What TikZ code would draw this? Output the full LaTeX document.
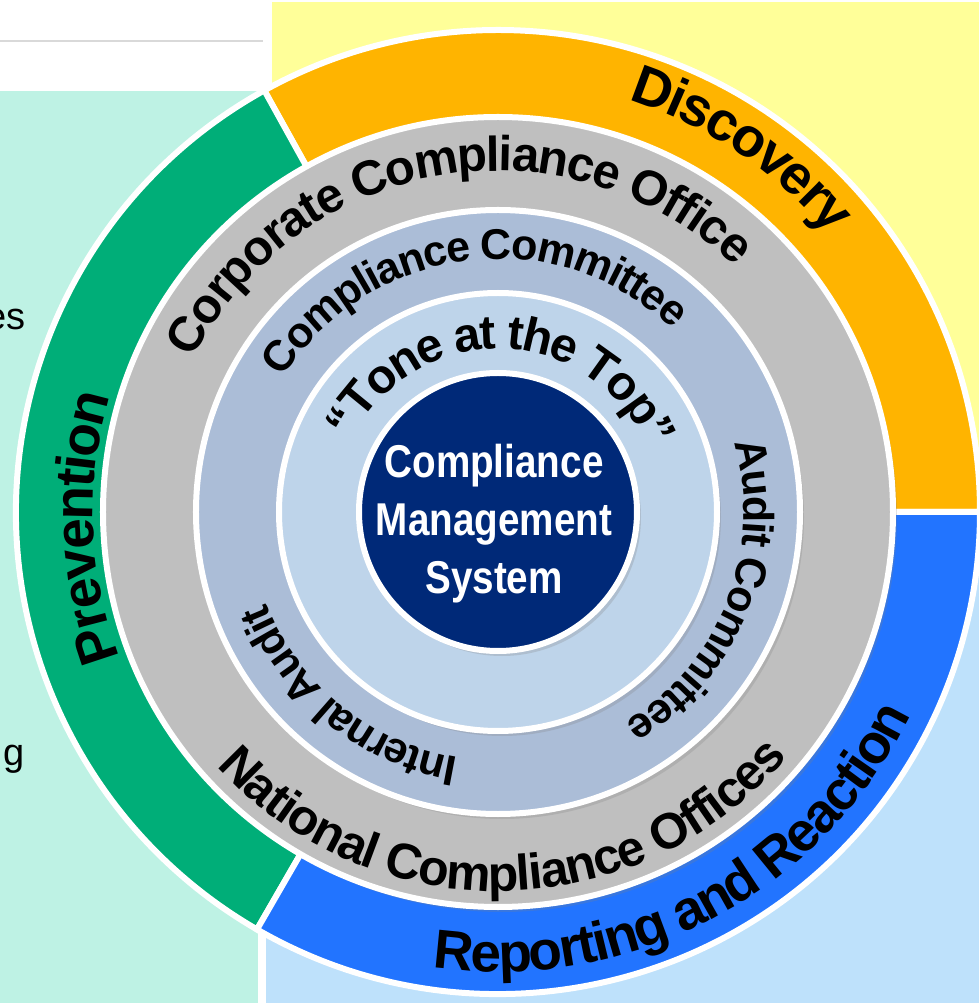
\documentclass[tikz,border=0pt]{standalone}
\usepackage{fontspec}
\setmainfont{Liberation Sans}
\newfontfamily\narrowsans[FakeStretch=0.84]{Liberation Sans}
\usetikzlibrary{decorations.text,shadows}

\definecolor{discoveryorange}{RGB}{255,180,0}
\definecolor{preventiongreen}{RGB}{0,174,120}
\definecolor{reportingblue}{RGB}{34,116,255}
\definecolor{officegray}{RGB}{191,191,191}
\definecolor{committeeblue}{RGB}{171,189,215}
\definecolor{toneblue}{RGB}{190,212,234}
\definecolor{systemnavy}{RGB}{0,41,120}
\definecolor{paleyellow}{RGB}{255,255,153}
\definecolor{palemint}{RGB}{190,242,228}
\definecolor{paleblue}{RGB}{190,225,251}
\definecolor{ruleline}{RGB}{217,217,217}

% ring fonts, set a little tight
\newcommand\outerringfont{\bfseries\fontsize{55}{64}\selectfont\kern-2pt}
\newcommand\officefont{\bfseries\fontsize{49}{58}\selectfont\kern-1.5pt}
\newcommand\nationalfont{\bfseries\fontsize{50}{58}\selectfont\kern-1.2pt}
\newcommand\committeefont{\bfseries\fontsize{43}{50}\selectfont\kern-1.5pt}
\newcommand\tonefont{\bfseries\fontsize{48}{54}\selectfont\kern-2pt}

\begin{document}
\begin{tikzpicture}[
        %One unit is one pixel, and we define some styles
        x=1pt, y=1pt,
        ring part/.style={draw=white, line width=6pt},
        ring disc/.style={draw=white, line width=6pt,
            drop shadow={shadow xshift=4pt, shadow yshift=-5pt, opacity=.25}},
        ring label/.style={decorate,
            decoration={text along path, text align=center, text={#1}}},
        side text/.style={font=\fontsize{38}{44}\selectfont, inner sep=0pt}
     ]
    \useasboundingbox (-498,-491) rectangle (481,512);
    % Important coordinates are defined
    \coordinate (centre) at (0,0);

    % background panels
    \fill[paleyellow] (-226,510) rectangle (481,0);
    \fill[paleblue] (-232,0) rectangle (481,-491);
    \fill[palemint] (-498,421) rectangle (-240,-491);
    \draw[ruleline, line width=2pt] (-498,471) -- (-235,471);
    % what is left of the text column
    \node[side text, anchor=base east] (es) at (-472,182) {es};
    \node[side text, anchor=base east] (g) at (-473,-253) {g};

    % outer ring in three parts
    \filldraw[ring part, fill=discoveryorange]
        (centre) -- (0:482) arc[start angle=0, end angle=119, radius=482] -- cycle;
    \filldraw[ring part, fill=preventiongreen]
        (centre) -- (119:482) arc[start angle=119, end angle=240, radius=482] -- cycle;
    \filldraw[ring part, fill=reportingblue]
        (centre) -- (240:482) arc[start angle=240, end angle=360, radius=482] -- cycle;

    % the discs, from the outside in
    \filldraw[ring disc, fill=officegray] (centre) circle (395);
    \filldraw[ring disc, fill=committeeblue] (centre) circle (302);
    \filldraw[ring disc, fill=toneblue] (centre) circle (219);
    \filldraw[ring disc, fill=systemnavy] (centre) circle (139);

    % labels of the outer ring
    \path[ring label={|\outerringfont|Discovery}]
        (136:432) arc[start angle=136, end angle=-24, radius=432];
    \path[ring label={|\outerringfont|Prevention}]
        (262:405) arc[start angle=262, end angle=102, radius=405];
    \path[ring label={|\outerringfont|Reporting and Reaction}]
        (208:460) arc[start angle=208, end angle=388, radius=460];

    % labels of the gray ring
    \path[ring label={|\officefont|Corporate Compliance Office}]
        (189.5:341) arc[start angle=189.5, end angle=9.5, radius=341];
    \path[ring label={|\nationalfont|National Compliance Offices}]
        (181:379) arc[start angle=181, end angle=361, radius=379];

    % labels of the committee ring
    \path[ring label={|\committeefont|Compliance Committee}]
        (187:253) arc[start angle=187, end angle=7, radius=253];
    \path[ring label={|\committeefont|Audit Committee}]
        (58.5:246) arc[start angle=58.5, end angle=-101.5, radius=246];
    \path[ring label={|\committeefont|Internal Audit}]
        (291:249) arc[start angle=291, end angle=171, radius=249];

    % tone at the top
    \path[ring label={|\tonefont|“Tone at the Top”}]
        (178:163) arc[start angle=178, end angle=-2, radius=163];

    % the centre
    \node[align=center, text=white, font=\narrowsans\bfseries\fontsize{46}{58}\selectfont]
        (system) at (-4,-12) {Compliance\\Management\\System};
\end{tikzpicture}
\end{document}
